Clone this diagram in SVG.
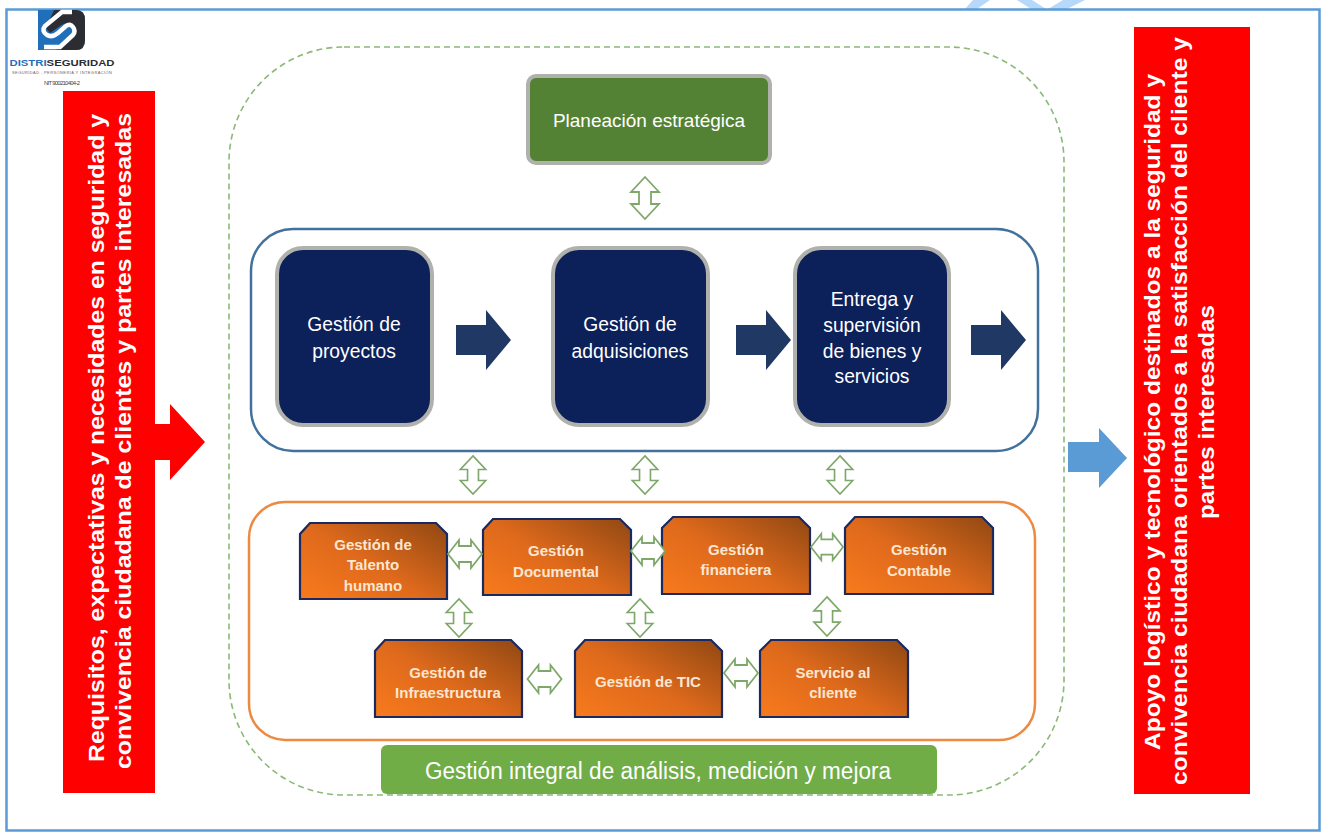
<svg xmlns="http://www.w3.org/2000/svg" width="1324" height="833" viewBox="0 0 1324 833">
<defs>
<linearGradient id="og" x1="0" y1="1" x2="1" y2="0.15"><stop offset="0" stop-color="#f87a1c"/><stop offset="0.5" stop-color="#df6a1c"/><stop offset="1" stop-color="#9a4c14"/></linearGradient>
<symbol id="dv" viewBox="0 0 30 44" overflow="visible"><path d="M15 1L29 16H21V28H29L15 43L1 28H9V16H1Z" fill="#fff" stroke="#7ea86a" stroke-width="1.8"/></symbol>
<symbol id="dh" viewBox="0 0 36 30" overflow="visible"><path d="M1 15L12 1V7H24V1L35 15L24 29V23H12V29Z" fill="#fff" stroke="#7ea86a" stroke-width="1.8"/></symbol>
</defs>
<style>
text{font-family:"Liberation Sans",Arial,sans-serif;text-anchor:middle}
.b{fill:#0c2059;stroke:#b0b0ac;stroke-width:4}
.bt{fill:#fff;font-size:19.3px}
.o{fill:url(#og);stroke:#1b2a5e;stroke-width:2.2}
.ot{fill:#fbe6d2;font-size:15px;font-weight:bold}
.side{fill:#fff;font-size:22.5px;font-weight:bold;text-anchor:start}
.na{fill:#1f3864}
</style>
<rect width="1324" height="833" fill="#fff"/>
<path d="M965 9L973 0H990L977 9ZM1017 0H1032L1046 9H1031ZM1048 9L1063 0H1085L1067 9Z" fill="#b5d8fb"/>
<rect x="6.500" y="9.500" width="1313" height="821" fill="#fff" stroke="#5b9bd5" stroke-width="2.500"/>

<g id="logo">
<path d="M38 10H76Q85 10 85 20V40Q85 50 76 50H38Z" fill="#1f6fba"/>
<path d="M54 10H76Q85 10 85 20V40Q85 50 76 50H56L76 33Q78 28 72 24Q66 21 60 26L50 33L46 28Z" fill="#2b2d33"/>
<path d="M72 12H62L45 26Q41 31 47 35Q52 38 58 33L66 26Q70 23 73 27Q76 31 73 35L60 47H44" fill="none" stroke="#fff" stroke-width="4.500"/>
<text x="62" y="65.500" style="font-size:9px;font-weight:bold" fill="#2b2d33" textLength="105" lengthAdjust="spacingAndGlyphs"><tspan fill="#1f6fba">DISTRI</tspan>SEGURIDAD</text>
<text x="62" y="74" style="font-size:4px" fill="#666" textLength="100" lengthAdjust="spacing">SEGURIDAD , PERSONERÍA Y INTEGRACIÓN</text>
<text x="62" y="85" style="font-size:6px" fill="#444" textLength="36">NIT 900210404-2</text>
</g>

<g id="input">
<rect x="63" y="91" width="92" height="702" fill="#ff0000"/>
<text class="side" transform="translate(104 762) rotate(-90)" textLength="648" lengthAdjust="spacingAndGlyphs">Requisitos, expectativas y necesidades en seguridad y</text>
<text class="side" transform="translate(131 769) rotate(-90)" textLength="656" lengthAdjust="spacingAndGlyphs">convivencia ciudadana  de clientes y partes interesadas</text>
<path d="M153 424H170V404L205 442L170 480V460H153Z" fill="#ff0000"/>
</g>

<g id="output">
<path d="M1068 442H1099V428L1127 458L1099 488V472H1068Z" fill="#5b9bd5"/>
<rect x="1134" y="27" width="116" height="767" fill="#ff0000"/>
<text class="side" transform="translate(1160 750) rotate(-90)" textLength="676" lengthAdjust="spacingAndGlyphs">Apoyo logístico y tecnológico destinados a la seguridad y</text>
<text class="side" transform="translate(1187 785) rotate(-90)" textLength="748" lengthAdjust="spacingAndGlyphs">convivencia ciudadana orientados a la satisfacción del cliente y</text>
<text class="side" transform="translate(1214 519) rotate(-90)" textLength="214" lengthAdjust="spacingAndGlyphs">partes interesadas</text>
</g>

<g id="frames">
<rect x="229" y="47" width="835" height="748" rx="115" fill="none" stroke="#8cb878" stroke-width="1.600" stroke-dasharray="6 4"/>
<rect x="251" y="229" width="787" height="222" rx="42" fill="#fff" stroke="#41719c" stroke-width="2.500"/>
<rect x="249" y="502" width="786" height="238" rx="36" fill="#fff" stroke="#ed8a42" stroke-width="2.500"/>
</g>

<g id="planeacion">
<rect x="528" y="76" width="242" height="87" rx="8" fill="#548235" stroke="#b0b0ac" stroke-width="4"/>
<text x="649" y="127" fill="#fff" style="font-size:19px">Planeación estratégica</text>
</g>

<g id="proyectos"><rect class="b" x="277" y="248" width="155" height="177" rx="26"/>
<text class="bt" x="354" y="331">Gestión de</text><text class="bt" x="354" y="358">proyectos</text></g>
<g id="adquisiciones"><rect class="b" x="553" y="248" width="155" height="177" rx="26"/>
<text class="bt" x="630" y="331">Gestión de</text><text class="bt" x="630" y="358">adquisiciones</text></g>
<g id="entrega"><rect class="b" x="795" y="248" width="154" height="177" rx="26"/>
<text class="bt" x="872" y="306">Entrega y</text><text class="bt" x="872" y="332">supervisión</text><text class="bt" x="872" y="358">de bienes y</text><text class="bt" x="872" y="383">servicios</text></g>

<g id="talento"><path class="o" d="M310 523H436L447 534V599H300V534Z"/>
<text class="ot" x="373" y="550">Gestión de</text><text class="ot" x="373" y="570">Talento</text><text class="ot" x="373" y="591">humano</text></g>
<g id="documental"><path class="o" d="M493 519H620L631 530V595H483V530Z"/>
<text class="ot" x="556" y="556">Gestión</text><text class="ot" x="556" y="577">Documental</text></g>
<g id="financiera"><path class="o" d="M673 517H799L810 528V594H662V528Z"/>
<text class="ot" x="736" y="555">Gestión</text><text class="ot" x="736" y="575">financiera</text></g>
<g id="contable"><path class="o" d="M855 517H982L993 528V594H845V528Z"/>
<text class="ot" x="919" y="555">Gestión</text><text class="ot" x="919" y="576">Contable</text></g>
<g id="infra"><path class="o" d="M385 640H511L522 651V717H375V651Z"/>
<text class="ot" x="448" y="678">Gestión de</text><text class="ot" x="448" y="698">Infraestructura</text></g>
<g id="tic"><path class="o" d="M585 640H711L722 651V717H575V651Z"/>
<text class="ot" x="648" y="687">Gestión de TIC</text></g>
<g id="servicio"><path class="o" d="M771 640H897L908 651V717H760V651Z"/>
<text class="ot" x="833" y="678">Servicio al</text><text class="ot" x="833" y="698">cliente</text></g>

<g id="mejora">
<rect x="381" y="745" width="556" height="49" rx="6" fill="#70ad47"/>
<text x="658" y="779" fill="#fff" style="font-size:23px" textLength="466" lengthAdjust="spacingAndGlyphs">Gestión integral de análisis, medición y mejora</text>
</g>

<g id="connectors">
<path class="na" d="M456 325H486V310L511 340L486 370V355H456Z"/>
<path class="na" d="M736 325H766V310L791 340L766 370V355H736Z"/>
<path class="na" d="M971 325H1001V310L1026 340L1001 370V355H971Z"/>
<use href="#dv" x="630" y="176" width="30" height="44"/>
<use href="#dv" x="458" y="455" width="30" height="40"/>
<use href="#dv" x="630" y="455" width="30" height="40"/>
<use href="#dv" x="825" y="455" width="30" height="40"/>
<use href="#dv" x="445" y="598" width="28" height="40"/>
<use href="#dv" x="626" y="598" width="28" height="40"/>
<use href="#dv" x="813" y="596" width="28" height="41"/>
<use href="#dh" x="447" y="539" width="36" height="30"/>
<use href="#dh" x="630" y="536" width="36" height="30"/>
<use href="#dh" x="810" y="532" width="34" height="30"/>
<use href="#dh" x="526" y="664" width="37" height="30"/>
<use href="#dh" x="723" y="658" width="36" height="30"/>
</g>
</svg>
